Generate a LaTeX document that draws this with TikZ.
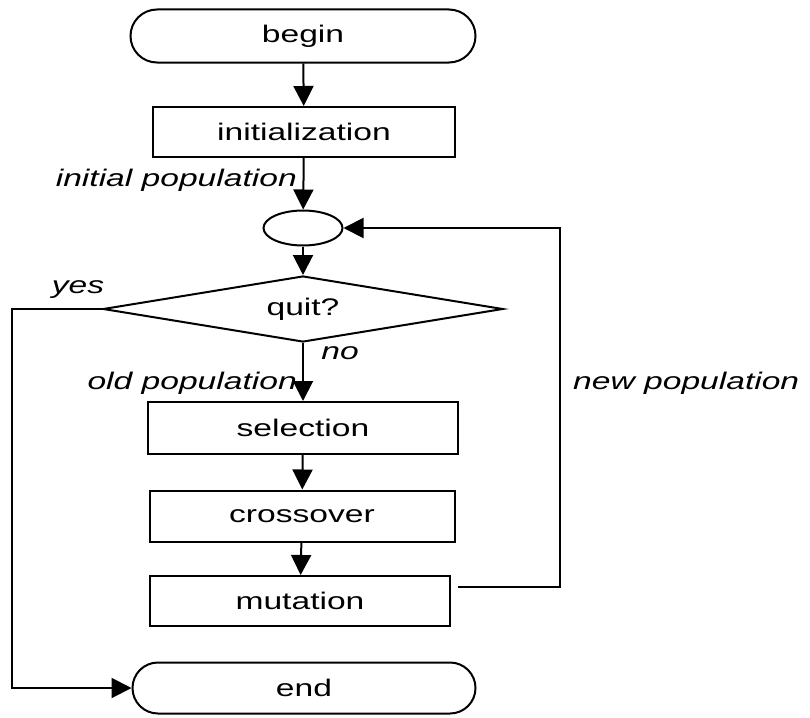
\documentclass[tikz,border=0pt]{standalone}
\usepackage{fontspec}
\setmainfont[FakeStretch=1.4]{Liberation Sans}
\usetikzlibrary{arrows.meta,shapes.geometric,shapes.misc}

\tikzset{
  txt/.style={font=\fontsize{24}{28}\selectfont},
  base/.style={draw, line width=2pt, inner sep=0pt, txt},
  terminal/.style={base, rounded rectangle, minimum width=345pt, minimum height=53pt},
  procbox/.style={base, rectangle, minimum width=302pt, minimum height=50pt},
  joiner/.style={base, ellipse, minimum width=79pt, minimum height=35pt},
  decision/.style={base, diamond, minimum width=400pt, minimum height=66pt},
  flowlabel/.style={font=\fontsize{24}{28}\selectfont\itshape, inner sep=0pt},
  arr/.style={line width=2pt, -{Triangle[width=20pt,length=20pt]}},
}

\begin{document}
\begin{tikzpicture}[x=1pt, y=-1pt]
  \useasboundingbox (0,0) rectangle (810,717);

  % flow nodes, top to bottom
  \node[terminal] (begin) at (303,36) {begin};
  \node[procbox]  (init)  at (304,132) {initialization};
  \node[joiner]   (join)  at (303,228) {};
  \node[decision, label={[txt, inner sep=0pt]center:quit?}] (quit) at (303,309) {};
  \node[procbox, minimum width=310pt, minimum height=52pt] (sel) at (303,428) {selection};
  \node[procbox, minimum width=305pt, minimum height=51pt] (cross) at (302,516) {crossover};
  \node[procbox, minimum width=300pt, minimum height=50pt] (mut) at (300,601) {mutation};
  \node[terminal, minimum width=343pt, minimum height=51pt] (end) at (304,688) {end};

  % bend points of the two loops
  \coordinate (yesbend) at (12,309);
  \coordinate (mutout) at (458,587);
  \coordinate (loopbend) at (560,587);

  % main flow
  \draw[arr] (begin) -- (init);
  \draw[arr] (init) -- (join);
  \draw[arr] (join) -- (quit);
  \draw[arr] (quit.south) -- (sel);
  \draw[arr] (sel) -- (cross);
  \draw[arr] (cross) -- (mut);

  % exit on "yes"
  \draw[arr] (quit.west) -- (yesbend) |- (end.west);

  % new population back into the loop
  \draw[arr] (mutout) -- (loopbend) |- (join.east);

  % edge labels
  \node[flowlabel, anchor=east] (lblinit) at (297,180) {initial population};
  \node[flowlabel] (lblyes) at (78,290) {yes};
  \node[flowlabel] (lblno) at (340,353) {no};
  \node[flowlabel, anchor=east] (lblold) at (297,383) {old population};
  \node[flowlabel, anchor=west] (lblnew) at (573,383) {new population};
\end{tikzpicture}
\end{document}
